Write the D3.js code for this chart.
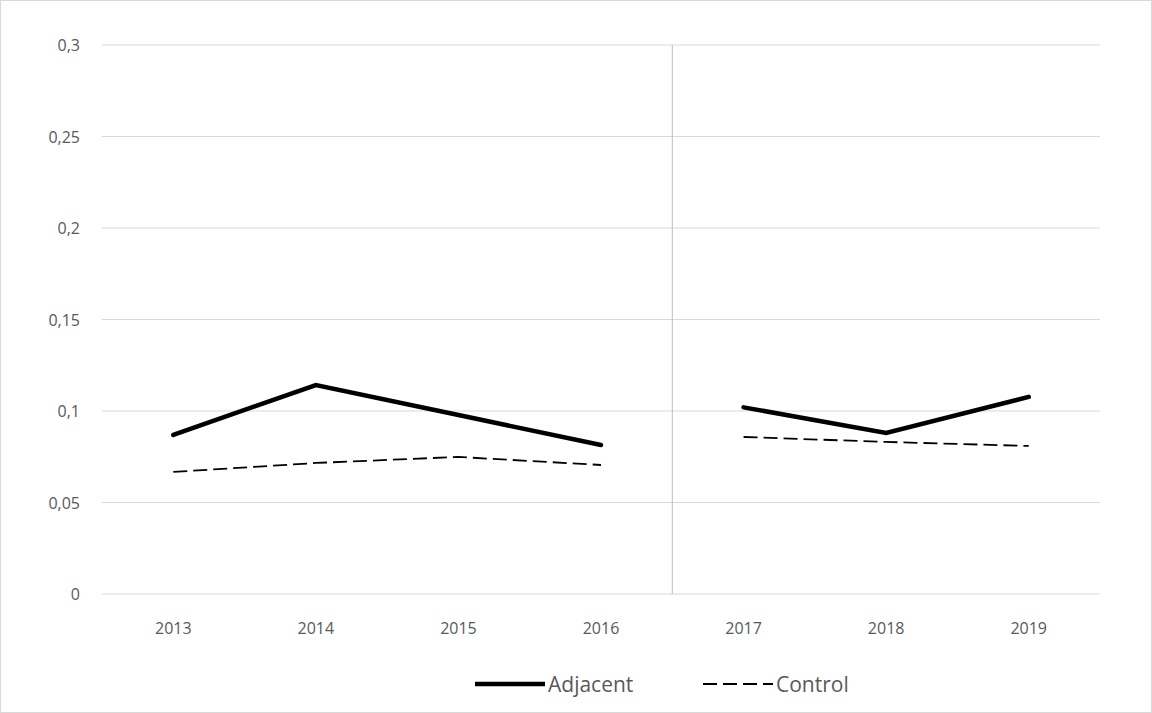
<!DOCTYPE html>
<html><head><meta charset="utf-8">
<script src="https://cdn.jsdelivr.net/npm/d3@7"></script>
<style>body{margin:0;background:#fff}text{font-family:"Open Sans",sans-serif;fill:#595959}</style>
</head><body><svg id="c" width="1152" height="713"></svg>
<script>
const years=["2013","2014","2015","2016","2017","2018","2019"];
const adjacent=[0.0869,0.1142,0.0978,0.0814,0.102,0.088,0.1077];
const control=[0.0667,0.0716,0.0749,0.0705,0.0858,0.0831,0.0809];
const yTicks=[0,0.05,0.1,0.15,0.2,0.25,0.3];
const svg=d3.select("#c");
svg.append("rect").attr("x",0.5).attr("y",0.5).attr("width",1151).attr("height",712).attr("fill","none").attr("stroke","#d9d9d9");
const x=d3.scaleBand().domain(years).range([102,1100]);
const y=d3.scaleLinear().domain([0,0.3]).range([594,45]);
const fmt=d=>String(d).replace(".",",");
yTicks.forEach(t=>{
 if(t>0) svg.append("line").attr("x1",102).attr("x2",1100).attr("y1",y(t)).attr("y2",y(t)).attr("stroke","#d9d9d9");
 svg.append("text").attr("x",80).attr("y",y(t)+6).attr("text-anchor","end").attr("font-size",16).text(fmt(t));
});
svg.append("line").attr("x1",102).attr("x2",1100).attr("y1",594).attr("y2",594).attr("stroke","#d9d9d9");
const vx=x("2017");
svg.append("line").attr("x1",vx).attr("x2",vx).attr("y1",45).attr("y2",594).attr("stroke","#bfbfbf");
years.forEach(yr=>{
 svg.append("text").attr("x",x(yr)+x.bandwidth()/2).attr("y",634).attr("text-anchor","middle").attr("font-size",16).text(yr);
});
const line=d3.line().y(d=>y(d));
[[0,4],[4,7]].forEach(([a,b])=>{
 line.x((d,i)=>x(years[a+i])+x.bandwidth()/2);
 svg.append("path").attr("d",line(adjacent.slice(a,b))).attr("fill","none").attr("stroke","#000").attr("stroke-width",4.5).attr("stroke-linecap","round");
 svg.append("path").attr("d",line(control.slice(a,b))).attr("fill","none").attr("stroke","#000").attr("stroke-width",1.8).attr("stroke-dasharray","14,6");
});
svg.append("line").attr("x1",475).attr("x2",545).attr("y1",684).attr("y2",684).attr("stroke","#000").attr("stroke-width",4.5);
svg.append("text").attr("x",548).attr("y",692).attr("font-size",21).text("Adjacent");
svg.append("line").attr("x1",703).attr("x2",773).attr("y1",684).attr("y2",684).attr("stroke","#000").attr("stroke-width",1.8).attr("stroke-dasharray","14,6");
svg.append("text").attr("x",776).attr("y",692).attr("font-size",21).text("Control");
</script></body></html>
